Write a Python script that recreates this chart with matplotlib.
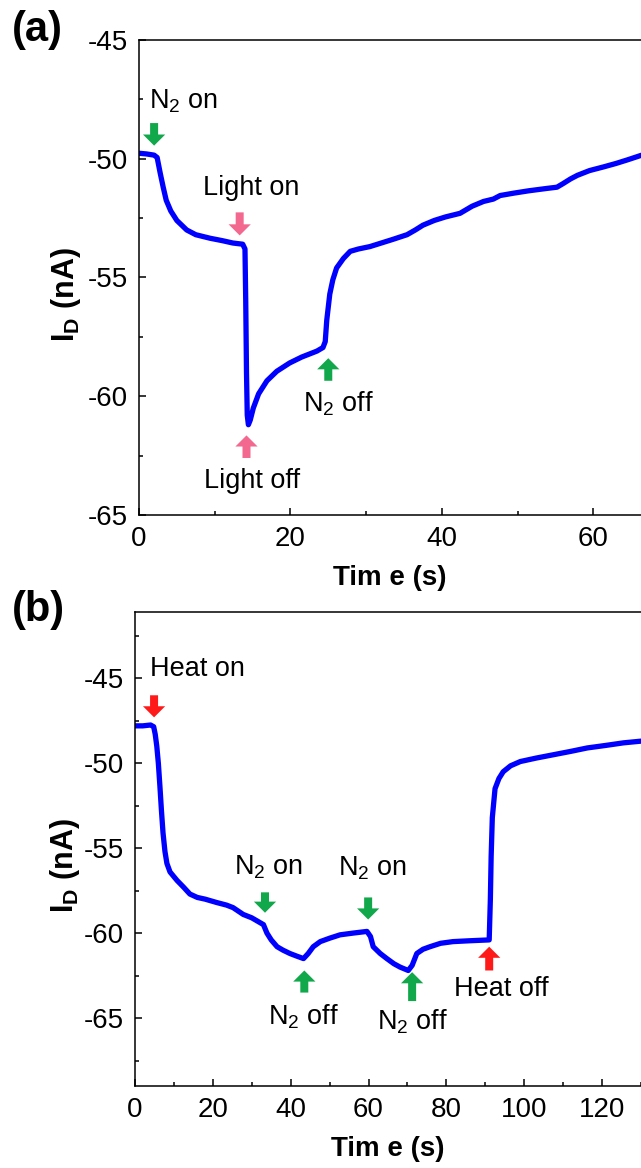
import matplotlib
matplotlib.use("Agg")
import matplotlib.pyplot as plt
from matplotlib.ticker import MultipleLocator

plt.rcParams['font.family'] = ['Liberation Sans', 'DejaVu Sans']
plt.rcParams['mathtext.fontset'] = 'custom'
plt.rcParams['mathtext.rm'] = 'Liberation Sans'
plt.rcParams['mathtext.bf'] = 'Liberation Sans:bold'
plt.rcParams['axes.unicode_minus'] = False

# ---- panel (a) data: time (s) vs drain current (nA)
time_a = [0, 1.0, 2.0, 2.4, 2.8, 3.2, 3.6, 4.2, 5.0, 6.3, 7.5, 9.4, 11.0, 12.4,
          13.7, 14.0, 14.1, 14.2, 14.3, 14.45, 14.7, 15.1, 15.8, 16.9, 18.2,
          19.9, 21.5, 23.5, 24.3, 24.6, 24.8, 25.2, 25.6, 26.1, 27.0, 27.9,
          29.0, 30.5, 32.0, 33.5, 35.4, 36.5, 37.5, 39.0, 40.5, 42.4, 44.0,
          45.5, 46.8, 47.7, 49.5, 51.5, 53.9, 55.2, 56.0, 57.0, 57.9, 59.5,
          61.3, 63.0, 64.5, 66.4]
current_a = [-49.77, -49.8, -49.85, -49.95, -50.6, -51.2, -51.75, -52.2, -52.6,
             -53.0, -53.2, -53.35, -53.45, -53.55, -53.6, -53.8, -56.0, -59.0,
             -60.8, -61.2, -61.0, -60.5, -59.9, -59.35, -58.95, -58.6, -58.35,
             -58.1, -57.95, -57.7, -56.8, -55.7, -55.1, -54.6, -54.2, -53.9,
             -53.8, -53.7, -53.55, -53.4, -53.2, -53.0, -52.8, -52.6, -52.45,
             -52.3, -52.0, -51.8, -51.7, -51.55, -51.45, -51.35, -51.25, -51.2,
             -51.05, -50.85, -50.7, -50.5, -50.35, -50.2, -50.05, -49.85]

# ---- panel (b) data
time_b = [0, 2.0, 4.0, 4.8, 5.2, 5.6, 6.0, 6.4, 6.8, 7.2, 7.7, 8.2, 9.0, 10.8,
          12.5, 14.1, 16.0, 18.0, 21.0, 23.5, 25.2, 26.5, 27.8, 30.0, 33.0,
          33.9, 35.0, 36.5, 38.0, 39.8, 41.5, 43.3, 44.5, 45.8, 47.6, 50.0,
          52.7, 56.0, 59.6, 60.5, 61.2, 63.0, 64.7, 66.5, 68.1, 70.2, 71.2,
          72.4, 74.0, 75.8, 78.5, 81.7, 86.0, 91.0, 91.3, 91.5, 91.8, 92.5,
          93.5, 94.6, 96.5, 99.0, 103.0, 107.5, 112.0, 116.2, 121.0, 125.5,
          130.0]
current_b = [-47.8, -47.8, -47.75, -47.85, -48.3, -49.0, -50.0, -51.35, -52.8,
             -54.1, -55.2, -55.9, -56.4, -56.9, -57.3, -57.7, -57.9, -58.0,
             -58.2, -58.35, -58.5, -58.7, -58.9, -59.1, -59.5, -60.0, -60.4,
             -60.8, -61.0, -61.2, -61.35, -61.5, -61.2, -60.8, -60.5, -60.3,
             -60.1, -60.0, -59.9, -60.2, -60.8, -61.2, -61.5, -61.8, -62.0,
             -62.2, -61.9, -61.2, -60.95, -60.8, -60.6, -60.5, -60.45, -60.4,
             -58.0, -55.5, -53.2, -51.5, -50.9, -50.5, -50.15, -49.9, -49.7,
             -49.5, -49.3, -49.1, -48.95, -48.8, -48.7]

GREEN = '#10a84a'
PINK = '#f2688f'
RED = '#ff1a1a'

# arrows: (time, tail y, tip y, colour)
arrows_a = [(2.0, -48.5, -49.45, GREEN), (13.3, -52.26, -53.23, PINK),
            (14.2, -62.6, -61.65, PINK), (25.0, -59.35, -58.4, GREEN)]
labels_a = [(5.9, -47.6, 'N$_\\mathrm{2}$ on'), (14.8, -51.25, 'Light on'),
            (14.9, -63.55, 'Light off'), (26.3, -60.3, 'N$_\\mathrm{2}$ off')]

arrows_b = [(4.9, -46.0, -47.3, RED), (33.4, -57.6, -58.8, GREEN),
            (43.5, -63.5, -62.2, GREEN), (59.9, -57.9, -59.2, GREEN),
            (71.2, -64.0, -62.3, GREEN), (91.0, -62.2, -60.8, RED)]
labels_b = [(16.1, -44.47, 'Heat on'), (34.2, -56.1, 'N$_\\mathrm{2}$ on'),
            (43.4, -64.9, 'N$_\\mathrm{2}$ off'), (61.1, -56.2, 'N$_\\mathrm{2}$ on'),
            (71.3, -65.2, 'N$_\\mathrm{2}$ off'), (94.1, -63.3, 'Heat off')]


def style_axes(ax, xmax, ylim, ylab_x):
    ax.set_xlim(0, xmax)
    ax.set_ylim(*ylim)
    ax.xaxis.set_major_locator(MultipleLocator(20))
    ax.xaxis.set_minor_locator(MultipleLocator(10))
    ax.yaxis.set_major_locator(MultipleLocator(5))
    ax.yaxis.set_minor_locator(MultipleLocator(2.5))
    ax.tick_params(which='both', direction='in', width=1.1, labelsize=20, pad=8,
                   top=False, right=False)
    ax.tick_params(which='major', length=5)
    ax.tick_params(which='minor', length=3)
    ax.spines['right'].set_visible(False)
    for s in ('left', 'bottom', 'top'):
        ax.spines[s].set_linewidth(1.1)
    ax.set_xlabel('Tim e (s)', fontsize=20, fontweight='bold', labelpad=9)
    ax.set_ylabel('I$_\\mathbf{D}$ (nA)', fontsize=22, fontweight='bold')
    ax.yaxis.set_label_coords(ylab_x, 0.465)


def draw_panel(ax, t, cur, arrows, labels):
    ax.plot(t, cur, color='#0000ff', lw=3.8, solid_joinstyle='round')
    for x, y0, y1, c in arrows:
        ax.annotate('', xy=(x, y1), xytext=(x, y0),
                    arrowprops=dict(arrowstyle='simple,head_width=1.0,head_length=0.5,tail_width=0.36',
                                    mutation_scale=16, fc=c, ec=c, lw=0,
                                    shrinkA=0, shrinkB=0))
    for x, y, s in labels:
        ax.text(x, y, s, fontsize=19.5, ha='center', va='center')


fig = plt.figure(figsize=(6.41, 11.68), dpi=100)
ax_a = fig.add_axes([0.2168, 0.5591, 0.7832, 0.4067])
ax_b = fig.add_axes([0.2106, 0.0702, 0.7894, 0.4058])

draw_panel(ax_a, time_a, current_a, arrows_a, labels_a)
style_axes(ax_a, 66.3, (-65, -45), -0.112)
draw_panel(ax_b, time_b, current_b, arrows_b, labels_b)
style_axes(ax_b, 130, (-69, -41.1), -0.104)

fig.text(0.019, 0.974, '(a)', fontsize=30, fontweight='bold', ha='left', va='center')
fig.text(0.019, 0.478, '(b)', fontsize=30, fontweight='bold', ha='left', va='center')

fig.savefig('out.png', dpi=100)
